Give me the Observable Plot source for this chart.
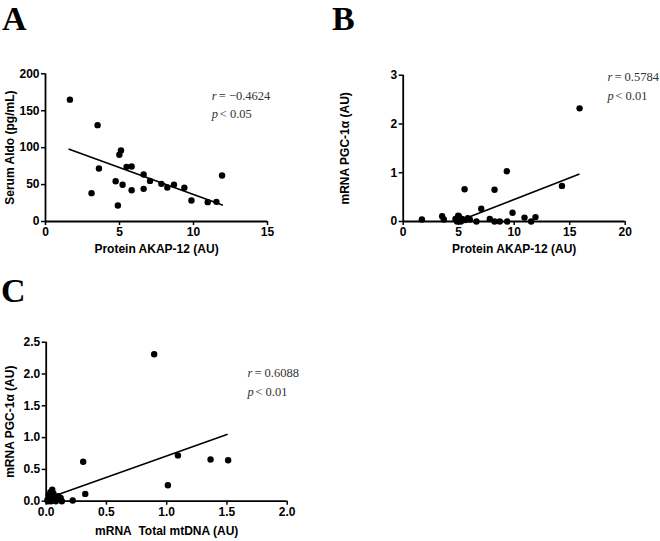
<!DOCTYPE html>
<html>
<head>
<meta charset="utf-8">
<script src="https://cdn.jsdelivr.net/npm/d3@7"></script>
<script src="https://cdn.jsdelivr.net/npm/@observablehq/plot@0.6"></script>
<style>
  body { margin: 0; background: #fff; }
  #wrap { position: relative; width: 660px; height: 541px; background: #fff; overflow: hidden; }
  .panel { position: absolute; }
  .letter { position: absolute; font-family: "Liberation Serif", "Times New Roman", serif; font-weight: bold; font-size: 34px; line-height: normal; color: #000; }
</style>
</head>
<body>
<div id="wrap"></div>
<script>
// ---- Panel A: Serum Aldo vs Protein AKAP-12
const aX = [1.65, 3.52, 3.61, 3.11, 4.74, 4.89, 4.99, 5.10, 5.21, 5.48, 5.82, 5.82, 6.63, 6.63, 7.06, 7.83, 8.23, 8.68, 9.38, 9.86, 10.96, 11.55, 11.93];
const aY = [165, 130.5, 71.8, 38.4, 54.6, 21.7, 90.3, 96.2, 49.7, 74, 74.5, 42.4, 63.7, 44.2, 55, 51, 46, 49.7, 45.6, 28.4, 26.2, 26.6, 62.3];
const aFitX = [1.6, 11.95];
const aFitY = [98, 22.5];
const aXTicks = [0, 5, 10, 15];
const aYTicks = [0, 50, 100, 150, 200];

// ---- Panel B: mRNA PGC-1α vs Protein AKAP-12
const bX = [1.68, 3.51, 3.66, 4.71, 4.85, 4.95, 5.01, 5.10, 5.2, 5.3, 5.53, 5.6, 5.82, 6.0, 6.6, 7.03, 7.8, 8.23, 8.23, 8.7, 9.34, 9.37, 9.85, 10.93, 11.53, 11.92, 14.3, 15.89];
const bY = [0.04, 0.11, 0.04, 0.05, 0.0, 0.12, 0.11, 0.02, 0.0, 0.05, 0.66, 0.03, 0.07, 0.04, 0.0, 0.26, 0.05, 0.65, 0.0, 0.0, 1.03, 0.0, 0.18, 0.08, 0.0, 0.09, 0.73, 2.32];
const bFitX = [5.7, 15.83];
const bFitY = [0.07, 0.97];
const bXTicks = [0, 5, 10, 15, 20];
const bYTicks = [0, 1, 2, 3];

// ---- Panel C: mRNA PGC-1α vs mRNA Total mtDNA
const cX = [0.01, 0.015, 0.02, 0.03, 0.035, 0.04, 0.05, 0.06, 0.07, 0.08, 0.1, 0.11, 0.12, 0.13, 0.22, 0.307, 0.324, 0.896, 1.01, 1.093, 1.364, 1.51];
const cY = [0.02, 0.0, 0.1, 0.05, 0.14, 0.0, 0.18, 0.12, 0.03, 0.0, 0.08, 0.04, 0.05, 0.0, 0.01, 0.62, 0.115, 2.31, 0.25, 0.72, 0.655, 0.645];
const cFitX = [0.03, 1.5];
const cFitY = [0.06, 1.05];
const cXTicks = [0, 0.5, 1.0, 1.5, 2.0];
const cYTicks = [0, 0.5, 1.0, 1.5, 2.0, 2.5];

const zip = (xs, ys) => xs.map((x, i) => ({x, y: ys[i]}));

const SANS = "'Liberation Sans', Arial, Helvetica, sans-serif";
const SERIF = "'Liberation Serif', 'Times New Roman', serif";

function panel(cfg) {
  const pts = zip(cfg.xs, cfg.ys);
  const fit = zip(cfg.fitX, cfg.fitY);
  const ann = {textAnchor: "start", fontFamily: SERIF, fontWeight: "normal", fontSize: 12.5, fill: "#333"};
  return Plot.plot({
    width: cfg.width, height: cfg.height,
    marginLeft: cfg.ml, marginRight: cfg.mr, marginTop: cfg.mt, marginBottom: cfg.mb,
    style: {fontFamily: SANS, fontSize: "12px", fontWeight: "bold", background: "transparent", overflow: "visible", color: "#000"},
    x: {domain: cfg.xDomain},
    y: {domain: cfg.yDomain},
    marks: [
      Plot.axisX({ticks: cfg.xTicks, tickSize: 4, tickPadding: 2, strokeWidth: 1.5, tickFormat: cfg.xFmt, label: null, fontWeight: "bold"}),
      Plot.axisY({ticks: cfg.yTicks, tickSize: 4, tickPadding: 2, strokeWidth: 1.5, tickFormat: cfg.yFmt, label: null, fontWeight: "bold"}),
      Plot.ruleX([cfg.xDomain[0]], {stroke: "#000", strokeWidth: 1.8}),
      Plot.ruleY([cfg.yDomain[0]], {stroke: "#000", strokeWidth: 1.8}),
      Plot.line(fit, {x: "x", y: "y", stroke: "#000", strokeWidth: 1.6}),
      Plot.dot(pts, {x: "x", y: "y", r: 3.2, fill: "#000", stroke: "none"}),
      Plot.text([cfg.yLabel], {frameAnchor: "left", textAnchor: "middle", lineAnchor: "middle", rotate: -90, dx: cfg.yLabelDx, fontWeight: "bold", fontSize: 12, fill: "#000"}),
      Plot.text([cfg.xLabel], {frameAnchor: "bottom", textAnchor: "middle", lineAnchor: "middle", dy: cfg.xLabelDy, fontWeight: "bold", fontSize: 12, fill: "#000"}),
      Plot.text(["r"], {...ann, x: cfg.annX, y: cfg.annY1, fontStyle: "italic"}),
      Plot.text([cfg.rText], {...ann, x: cfg.annX, y: cfg.annY1, dx: 7}),
      Plot.text(["p"], {...ann, x: cfg.annX, y: cfg.annY2, fontStyle: "italic"}),
      Plot.text([cfg.pText], {...ann, x: cfg.annX, y: cfg.annY2, dx: 8})
    ]
  });
}

const wrap = document.getElementById("wrap");
function place(node, left, top) {
  node.classList.add("panel");
  node.style.left = left + "px";
  node.style.top = top + "px";
  wrap.appendChild(node);
}
function letter(t, left, top) {
  const d = document.createElement("div");
  d.className = "letter";
  d.textContent = t;
  d.style.left = left + "px";
  d.style.top = top + "px";
  wrap.appendChild(d);
}

place(panel({
  xs: aX, ys: aY, fitX: aFitX, fitY: aFitY,
  width: 330, height: 215, ml: 45, mr: 63, mt: 18.3, mb: 49,
  xDomain: [0, 15], yDomain: [0, 200], xTicks: aXTicks, yTicks: aYTicks,
  xFmt: d3.format("d"), yFmt: d3.format("d"),
  yLabel: "Serum Aldo (pg/mL)", yLabelDx: -35,
  xLabel: "Protein AKAP-12 (AU)", xLabelDy: 28,
  annX: 11.23, annY1: 170, annY2: 146,
  rText: "= \u22120.4624", pText: "< 0.05"
}), 0, 55);

place(panel({
  xs: bX, ys: bY, fitX: bFitX, fitY: bFitY,
  width: 330, height: 215, ml: 72.7, mr: 35.3, mt: 19.7, mb: 49,
  xDomain: [0, 20], yDomain: [0, 3], xTicks: bXTicks, yTicks: bYTicks,
  xFmt: d3.format("d"), yFmt: d3.format("d"),
  yLabel: "mRNA PGC-1\u03b1 (AU)", yLabelDx: -57.7,
  xLabel: "Protein AKAP-12 (AU)", xLabelDy: 28,
  annX: 18.4, annY1: 2.97, annY2: 2.58,
  rText: "= 0.5784", pText: "< 0.01"
}), 330, 55);

place(panel({
  xs: cX, ys: cY, fitX: cFitX, fitY: cFitY,
  width: 330, height: 221, ml: 45.7, mr: 43.3, mt: 21.7, mb: 40.3,
  xDomain: [0, 2], yDomain: [0, 2.5], xTicks: cXTicks, yTicks: cYTicks,
  xFmt: d3.format(".1f"), yFmt: d3.format(".1f"),
  yLabel: "mRNA PGC-1\u03b1 (AU)", yLabelDx: -35.7,
  xLabel: "mRNA\u00a0 Total mtDNA (AU)", xLabelDy: 30,
  annX: 1.67, annY1: 2.01, annY2: 1.71,
  rText: "= 0.6088", pText: "< 0.01"
}), 0, 320);

letter("A", 2, 0);
letter("B", 332, 0);
letter("C", 1, 272);
</script>
</body>
</html>
